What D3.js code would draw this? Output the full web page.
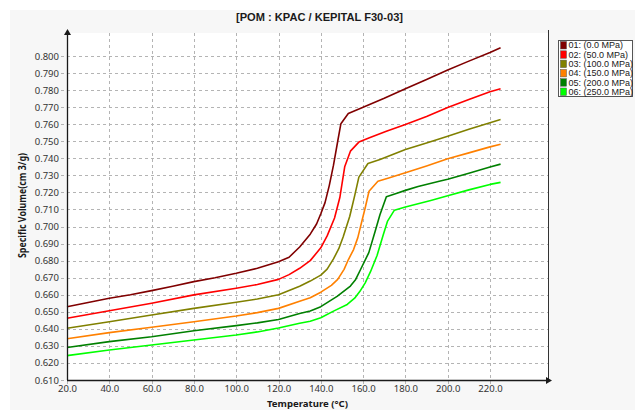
<!DOCTYPE html>
<html>
<head>
<meta charset="utf-8">
<script src="https://cdn.jsdelivr.net/npm/d3@7"></script>
<style>
  html, body { margin: 0; padding: 0; background: #fff; }
  svg { display: block; }
</style>
</head>
<body>
<svg id="chart" width="635" height="410"></svg>
<script>
// PVT curves for POM KEPITAL F30-03: specific volume vs temperature at six pressures
const chartTitle = "[POM : KPAC / KEPITAL F30-03]";
const xTitle = "Temperature (\u00B0C)";
const yTitle = "Specific Volume(cm 3/g)";

const xTicks = [20, 40, 60, 80, 100, 120, 140, 160, 180, 200, 220];
const yTicks = [0.61, 0.62, 0.63, 0.64, 0.65, 0.66, 0.67, 0.68, 0.69, 0.70,
                0.71, 0.72, 0.73, 0.74, 0.75, 0.76, 0.77, 0.78, 0.79, 0.80];

const seriesNames = ["01: (0.0 MPa)", "02: (50.0 MPa)", "03: (100.0 MPa)",
                     "04: (150.0 MPa)", "05: (200.0 MPa)", "06: (250.0 MPa)"];
const seriesColors = ["#800000", "#ff0000", "#808000", "#ff8000", "#008000", "#00ff00"];

// [temperature °C, specific volume cm³/g]
const pv01 = [[20,0.6530],[30,0.6555],[40,0.6579],[50,0.6600],[60,0.6624],[70,0.6650],[80,0.6677],
  [90,0.6700],[100,0.6726],[110,0.6755],[120,0.6794],[125,0.6820],[130,0.6880],[135,0.6955],
  [138,0.7015],[140,0.7075],[142,0.7140],[144,0.7240],[146,0.7360],[148,0.7500],[149.5,0.7603],
  [153,0.7663],[160,0.7700],[170,0.7752],[180,0.7808],[190,0.7862],[200,0.7918],[210,0.7970],
  [220,0.8020],[225,0.8048]];
const pv02 = [[20,0.6462],[40,0.6506],[60,0.6550],[80,0.6599],[100,0.6638],[110,0.6660],[120,0.6690],
  [125,0.6718],[130,0.6755],[135,0.6800],[140,0.6875],[143,0.6945],[146.5,0.7050],[149,0.7170],
  [151.3,0.7350],[154,0.7442],[158,0.7495],[163,0.7520],[171,0.7559],[180,0.7598],[190,0.7645],
  [200,0.7698],[210,0.7745],[220,0.7790],[225,0.7808]];
const pv03 = [[20,0.6403],[40,0.6442],[60,0.6481],[80,0.6520],[100,0.6556],[110,0.6575],[120,0.6600],
  [125,0.6625],[130,0.6650],[135,0.6680],[140,0.6715],[143,0.6750],[146,0.6810],[148.5,0.6870],
  [150.6,0.6940],[153.7,0.7060],[156,0.7180],[158,0.7290],[162.3,0.7370],[168,0.7393],[180,0.7452],
  [190,0.7490],[200,0.7530],[210,0.7570],[220,0.7608],[225,0.7627]];
const pv04 = [[20,0.6342],[40,0.6378],[60,0.6409],[80,0.6442],[100,0.6475],[110,0.6495],[120,0.6520],
  [130,0.6562],[135,0.6582],[140,0.6615],[145,0.6655],[148,0.6690],[151,0.6749],[153,0.6805],
  [155.5,0.6865],[157.5,0.6935],[159.5,0.7035],[161,0.7110],[162.8,0.7207],[167,0.7266],
  [172.5,0.7286],[180,0.7315],[190,0.7355],[200,0.7398],[210,0.7432],[220,0.7467],[225,0.7482]];
const pv05 = [[20,0.6291],[40,0.6325],[60,0.6354],[80,0.6389],[100,0.6419],[110,0.6435],[120,0.6455],
  [130,0.6490],[135,0.6505],[140,0.6530],[147.7,0.6590],[154,0.6651],[156.5,0.6690],[158.8,0.6748],
  [162.7,0.6847],[165.6,0.6968],[168,0.7070],[171,0.7175],[176,0.7195],[180,0.7212],[186,0.7235],
  [196,0.7266],[200,0.7277],[210,0.7312],[220,0.7349],[225,0.7366]];
const pv06 = [[20,0.6243],[40,0.6276],[60,0.6305],[80,0.6335],[100,0.6364],[110,0.6382],[120,0.6405],
  [130,0.6433],[135,0.6445],[140,0.6465],[146,0.6504],[152.5,0.6543],[156,0.6580],[158.5,0.6620],
  [161,0.6670],[163.5,0.6735],[166.6,0.6830],[169.5,0.6950],[171.5,0.7030],[174.8,0.7096],
  [180,0.7115],[192,0.7153],[200,0.7180],[210,0.7215],[220,0.7247],[225,0.7259]];

const seriesData = [pv01, pv02, pv03, pv04, pv05, pv06];

const W = 635, H = 410;
const plotLeft = 67, plotRight = 548, plotTop = 33, plotBottom = 380;

const x = d3.scaleLinear().domain([20, 220]).range([67, 490]);
const y = d3.scaleLinear().domain([0.61, 0.80]).range([380, 56]);

const svg = d3.select("#chart");
const labelFont = "'Noto Sans', 'Open Sans', sans-serif";

// backdrop panel and white plot area
svg.append("rect").attr("width", W).attr("height", H).attr("fill", "#ffffff");
svg.append("rect").attr("x", 10).attr("y", 10).attr("width", W - 10).attr("height", H - 10)
  .attr("fill", "#f7f7f7");
svg.append("rect").attr("x", plotLeft).attr("y", plotTop)
  .attr("width", plotRight - plotLeft).attr("height", plotBottom - plotTop)
  .attr("fill", "#ffffff");

// dashed grid
const grid = svg.append("g").attr("stroke", "#b4b4b4").attr("stroke-dasharray", "3,3")
  .attr("stroke-width", 1);
grid.selectAll("line.h").data(yTicks).join("line").attr("class", "h")
  .attr("x1", plotLeft - 6).attr("x2", plotRight)
  .attr("y1", d => Math.round(y(d)) + 0.5).attr("y2", d => Math.round(y(d)) + 0.5);
grid.selectAll("line.v").data(xTicks).join("line").attr("class", "v")
  .attr("x1", d => Math.round(x(d)) + 0.5).attr("x2", d => Math.round(x(d)) + 0.5)
  .attr("y1", plotTop).attr("y2", plotBottom + 4);

// axes (tick labels only; domain lines drawn separately with arrows)
const xAxis = d3.axisBottom(x).tickValues(xTicks).tickFormat(d3.format(".1f"))
  .tickSizeInner(0).tickSizeOuter(0).tickPadding(5);
const yAxis = d3.axisLeft(y).tickValues(yTicks).tickFormat(d3.format(".3f"))
  .tickSizeInner(0).tickSizeOuter(0).tickPadding(8);

const gx = svg.append("g").attr("transform", `translate(0,${plotBottom})`).call(xAxis);
const gy = svg.append("g").attr("transform", `translate(${plotLeft},0)`).call(yAxis);
[gx, gy].forEach(g => {
  g.select(".domain").remove();
  g.selectAll("text").attr("font-family", labelFont).attr("font-size", 9.5).attr("fill", "#333");
});

// curves
const line = d3.line().x(d => x(d[0])).y(d => y(d[1]));
svg.append("g").selectAll("path").data(seriesData).join("path")
  .attr("d", line)
  .attr("fill", "none")
  .attr("stroke", (d, i) => seriesColors[i])
  .attr("stroke-width", 1.6)
  .attr("stroke-linejoin", "round");

// axis lines with arrowheads
const axisColor = "#1a1a1a";
svg.append("line").attr("x1", plotLeft + 0.5).attr("x2", plotLeft + 0.5)
  .attr("y1", plotTop).attr("y2", plotBottom).attr("stroke", axisColor).attr("stroke-width", 1.3);
svg.append("line").attr("x1", plotLeft).attr("x2", plotRight)
  .attr("y1", plotBottom + 0.5).attr("y2", plotBottom + 0.5).attr("stroke", axisColor).attr("stroke-width", 1.3);
svg.append("line").attr("x1", plotRight + 0.5).attr("x2", plotRight + 0.5)
  .attr("y1", plotTop - 3).attr("y2", plotBottom).attr("stroke", "#333").attr("stroke-width", 1);
svg.append("path")
  .attr("d", `M${plotLeft + 0.5},${plotTop - 4} l-3.5,6 l7,0 z`).attr("fill", axisColor);
svg.append("path")
  .attr("d", `M${plotRight + 4},${plotBottom + 0.5} l-6,-3.5 l0,7 z`).attr("fill", axisColor);

// titles
svg.append("text").attr("x", 319.5).attr("y", 21).attr("text-anchor", "middle")
  .attr("font-family", "'Liberation Sans', Arial, sans-serif").attr("font-weight", "bold")
  .attr("font-size", 11).attr("fill", "#1a1a1a")
  .attr("textLength", 167).attr("lengthAdjust", "spacingAndGlyphs")
  .text(chartTitle);

svg.append("text").attr("x", 307.5).attr("y", 407).attr("text-anchor", "middle")
  .attr("font-family", labelFont).attr("font-weight", "bold").attr("font-size", 9.5)
  .attr("fill", "#1a1a1a").attr("textLength", 81).attr("lengthAdjust", "spacingAndGlyphs")
  .text(xTitle);

svg.append("text").attr("transform", "translate(26,205.5) rotate(-90)").attr("text-anchor", "middle")
  .attr("font-family", labelFont).attr("font-weight", "bold").attr("font-size", 10)
  .attr("fill", "#1a1a1a").attr("textLength", 105).attr("lengthAdjust", "spacingAndGlyphs")
  .text(yTitle);

// legend
const legend = svg.append("g");
legend.append("rect").attr("x", 558.5).attr("y", 40.5).attr("width", 74).attr("height", 56)
  .attr("fill", "#ffffff").attr("stroke", "#555").attr("stroke-width", 1);
const rows = legend.selectAll("g.row").data(seriesNames).join("g").attr("class", "row")
  .attr("transform", (d, i) => `translate(0,${45 + i * 9.3})`);
rows.append("rect").attr("x", 560.5).attr("y", -3.5).attr("width", 6).attr("height", 7.5)
  .attr("fill", (d, i) => seriesColors[i]).attr("stroke", "#555").attr("stroke-width", 0.5);
rows.append("text").attr("x", 568.5).attr("y", 3.3)
  .attr("font-family", "'Liberation Sans', Arial, sans-serif").attr("font-size", 9).attr("fill", "#1a1a1a")
  .text(d => d);
</script>
</body>
</html>
